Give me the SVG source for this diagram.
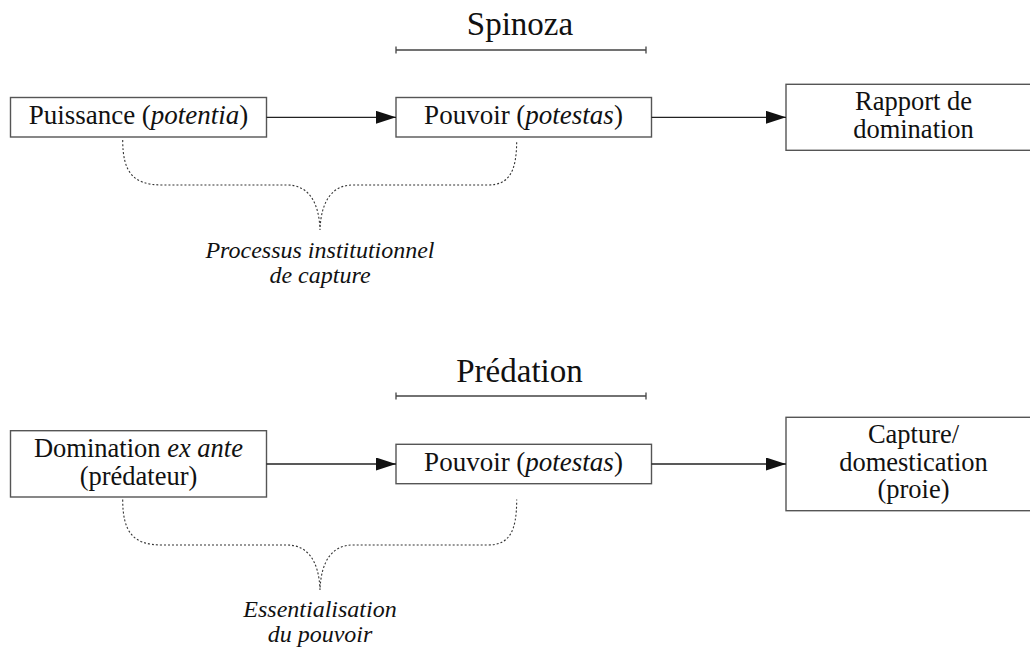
<svg xmlns="http://www.w3.org/2000/svg" width="1030" height="649" viewBox="0 0 1030 649">
<style>
  text { font-family: 'Liberation Serif', 'DejaVu Serif', 'Noto Serif', Tinos, 'Times New Roman', Times, serif; fill: #111; }
  .box { fill: #fff; stroke: #555; stroke-width: 1.4; }
  .lbl { font-size: 27px; text-anchor: middle; }
  .lbl2 { font-size: 26.5px; text-anchor: middle; }
  .title { font-size: 33px; text-anchor: middle; }
  .note { font-size: 24px; font-style: italic; text-anchor: middle; }
  .it { font-style: italic; }
  .conn { stroke: #222; stroke-width: 1.3; fill: none; }
  .brace { stroke: #333; stroke-width: 1.1; fill: none; stroke-dasharray: 2 2; }
  .bar { stroke: #444; stroke-width: 1.3; fill: none; }
</style>
<defs>
  <marker id="arrow" viewBox="0 0 20 13" refX="20" refY="6.5" markerWidth="20" markerHeight="13" markerUnits="userSpaceOnUse" orient="auto">
    <path d="M0,0 L20,6.5 L0,13 Z" fill="#111"/>
  </marker>
</defs>
<rect width="1030" height="649" fill="#fff"/>

<g font-family="Liberation Serif, serif">
<!-- Upper section -->
<g id="title-spinoza">
  <text class="title" x="520" y="35">Spinoza</text>
  <path class="bar" d="M396,50 H646 M396,46.5 V53.5 M646,46.5 V53.5"/>
</g>
<g id="node-puissance">
  <rect class="box" x="10.5" y="97.5" width="256" height="39.5"/>
  <text class="lbl" x="138.5" y="124">Puissance (<tspan class="it">potentia</tspan>)</text>
</g>
<g id="node-pouvoir1">
  <rect class="box" x="396" y="97.5" width="255.5" height="39.5"/>
  <text class="lbl" x="523.5" y="124">Pouvoir (<tspan class="it">potestas</tspan>)</text>
</g>
<g id="node-rapport">
  <rect class="box" x="786" y="84.3" width="256" height="66"/>
  <text class="lbl2" x="913.5" y="110">Rapport de</text>
  <text class="lbl2" x="913.5" y="137.5">domination</text>
</g>
<g id="note-processus">
  <text class="note" x="320" y="258">Processus institutionnel</text>
  <text class="note" x="320" y="283">de capture</text>
</g>

<!-- Lower section -->
<g id="title-predation">
  <text class="title" x="519.5" y="381.5">Prédation</text>
  <path class="bar" d="M396,396 H646 M396,392.5 V399.5 M646,392.5 V399.5"/>
</g>
<g id="node-domination">
  <rect class="box" x="10.5" y="430.7" width="256" height="66.3"/>
  <text class="lbl2" x="138.5" y="457">Domination <tspan class="it">ex ante</tspan></text>
  <text class="lbl2" x="138.5" y="484.5">(prédateur)</text>
</g>
<g id="node-pouvoir2">
  <rect class="box" x="396" y="444.3" width="255.5" height="39.4"/>
  <text class="lbl" x="523.5" y="470.7">Pouvoir (<tspan class="it">potestas</tspan>)</text>
</g>
<g id="node-capture">
  <rect class="box" x="786" y="417.3" width="256" height="93.4"/>
  <text class="lbl2" x="913.5" y="443">Capture/</text>
  <text class="lbl2" x="913.5" y="470.5">domestication</text>
  <text class="lbl2" x="913.5" y="498">(proie)</text>
</g>
<g id="note-essentialisation">
  <text class="note" x="320" y="617">Essentialisation</text>
  <text class="note" x="320" y="642">du pouvoir</text>
</g>
</g>

<!-- Connectors -->
<g id="connectors">
  <line class="conn" x1="266.5" y1="117.3" x2="396" y2="117.3" marker-end="url(#arrow)"/>
  <line class="conn" x1="651.5" y1="117.3" x2="786" y2="117.3" marker-end="url(#arrow)"/>
  <line class="conn" x1="266.5" y1="464" x2="396" y2="464" marker-end="url(#arrow)"/>
  <line class="conn" x1="651.5" y1="464" x2="786" y2="464" marker-end="url(#arrow)"/>
  <path class="brace" d="M122.7,140 C122.7,172 133,185 162,185 L287,185 C307,185 319,200 320,230 C321,200 333,185 353,185 L488,185 C509,185 516.7,172 516.7,140"/>
  <path class="brace" d="M122.7,499.5 C122.7,532 133,545 162,545 L287,545 C307,545 319,560 320,590 C321,560 333,545 353,545 L488,545 C509,545 516.7,532 516.7,499.5"/>
</g>
</svg>
